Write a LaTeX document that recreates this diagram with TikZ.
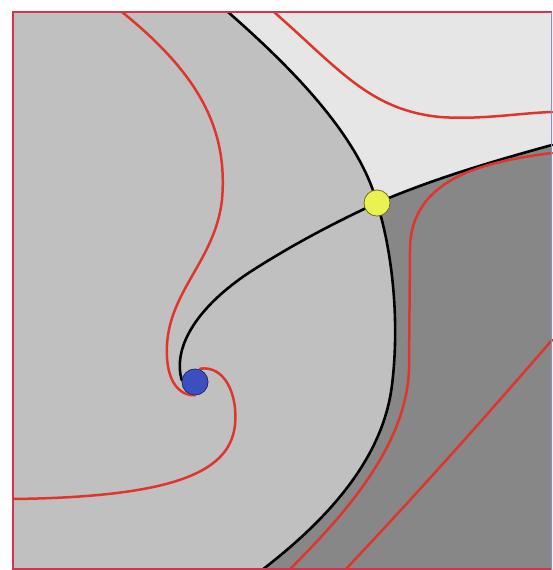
\documentclass[tikz,border=0pt]{standalone}
\begin{document}
\begin{tikzpicture}[x=1pt,y=-1pt,
  sepline/.style={line width=2.6pt,black,line cap=round},
  flowline/.style={line width=2.5pt,color=flowred,line cap=round},
  framestyle/.style={line width=2.6pt,color=framered},
  sourcedot/.style={circle,fill=sourceblue,draw=sourceedge,line width=0.6pt,minimum size=26pt,inner sep=0pt},
  saddledot/.style={circle,fill=saddleyellow,draw=saddleedge,line width=0.6pt,minimum size=26pt,inner sep=0pt}]
\definecolor{flowred}{HTML}{E0352B}
\definecolor{framered}{HTML}{D2344C}
\definecolor{midgray}{HTML}{C0C0C0}
\definecolor{lightgray2}{HTML}{E6E6E6}
\definecolor{darkgray2}{HTML}{878787}
\definecolor{sourceblue}{HTML}{3C4FC0}
\definecolor{sourceedge}{HTML}{1E2A70}
\definecolor{saddleyellow}{HTML}{E9F250}
\definecolor{saddleedge}{HTML}{6B6B10}
\definecolor{edgeblue}{HTML}{8C8CC8}
\useasboundingbox (0,0) rectangle (552,570);
\fill[white] (0,0) rectangle (552,570);
% named points
\coordinate (sadc) at (377,203);
\coordinate (topA) at (228,12);
\coordinate (botA) at (262,570);
\coordinate (rightB) at (552,145);
% regions
\fill[midgray] (13,12) rectangle (552,570);
\fill[darkgray2] (sadc) .. controls (392,250) and (400,320) .. (392,385) .. controls (384,450) and (340,510) .. (botA) -- (552,570) -- (552,12) -- cycle;
\fill[lightgray2] (topA) .. controls (300,75) and (360,140) .. (sadc) .. controls (430,180) and (490,162) .. (rightB) -- (552,12) -- cycle;
% nodes
\node[sourcedot] (src) at (195,382) {};
\node[saddledot] (sad) at (sadc) {};
% separatrices
\draw[sepline] (topA) .. controls (300,75) and (360,140) .. (sad.center);
\draw[sepline] (sad.center) .. controls (392,250) and (400,320) .. (392,385) .. controls (384,450) and (340,510) .. (botA);
\draw[sepline] (src.west) ++(0,-2) .. controls (172,345) and (200,305) .. (250,272) .. controls (295,243) and (340,220) .. (sad.center) .. controls (430,180) and (490,162) .. (rightB);
% flow lines
\draw[flowline] (122,12) .. controls (200,75) and (228,130) .. (222,200) .. controls (215,260) and (170,290) .. (167,345) .. controls (165,385) and (182,396) .. (src.south);
\draw[flowline] (src.north) ++(5,0) .. controls (225,365) and (238,395) .. (235,425) .. controls (230,470) and (180,497) .. (13,499);
\draw[flowline] (274,12) .. controls (340,70) and (370,110) .. (440,117) .. controls (480,120) and (520,113) .. (552,112);
\draw[flowline] (552,153) .. controls (480,162) and (410,180) .. (410,250) -- (409,370) .. controls (406,440) and (355,505) .. (289,570);
\draw[flowline] (552,340) .. controls (500,400) and (430,480) .. (345,570);
% frame
\draw[framestyle] (552,12) -- (13,12) -- (13,569) -- (552,569);
\draw[line width=1.2pt,edgeblue] (551.4,12) -- (551.4,570);
% dots on top
\node[sourcedot] at (src) {};
\node[saddledot] at (sad) {};
\end{tikzpicture}
\end{document}
